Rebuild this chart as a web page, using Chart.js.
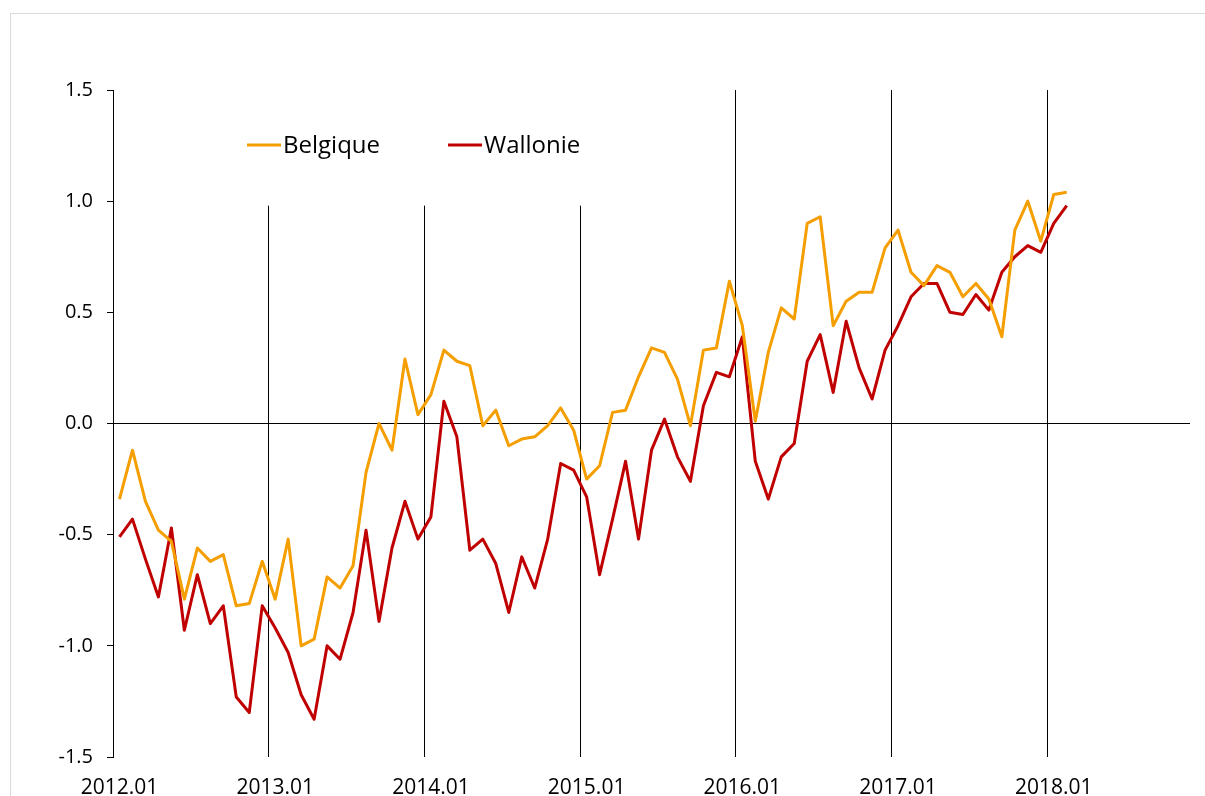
<!DOCTYPE html>
<html>
<head>
<meta charset="utf-8">
<script src="https://cdn.jsdelivr.net/npm/chart.js@4"></script>
<style>
    html, body { margin: 0; padding: 0; background: #fff; overflow: hidden; }
    #frame { position: absolute; left: 10px; top: 13px; width: 1300px; height: 900px; border: 1px solid #dadada; }
    #wrap { position: absolute; left: 0; top: 0; width: 1205px; height: 796px; }
</style>
</head>
<body>
<div id="frame"></div>
<div id="wrap"><canvas id="chart" width="1205" height="796"></canvas></div>
<script>
// Monthly axis runs 2012.01 .. 2018.11, data stops at 2018.02
const years = ['2012', '2013', '2014', '2015', '2016', '2017', '2018'];
const monthNums = ['01', '02', '03', '04', '05', '06', '07', '08', '09', '10', '11', '12'];
const axisLength = 83;
const months = years.flatMap(y => monthNums.map(m => `${y}.${m}`)).slice(0, axisLength);

const yTicks = [-1.5, -1.0, -0.5, 0.0, 0.5, 1.0, 1.5];

const belgique = [
    -0.34, -0.12, -0.35, -0.48, -0.53, -0.79, -0.56, -0.62, -0.59, -0.82, -0.81, -0.62,
    -0.79, -0.52, -1.00, -0.97, -0.69, -0.74, -0.64, -0.22, 0.00, -0.12, 0.29, 0.04,
    0.13, 0.33, 0.28, 0.26, -0.01, 0.06, -0.10, -0.07, -0.06, -0.01, 0.07, -0.03,
    -0.25, -0.19, 0.05, 0.06, 0.21, 0.34, 0.32, 0.20, -0.01, 0.33, 0.34, 0.64,
    0.44, 0.01, 0.32, 0.52, 0.47, 0.90, 0.93, 0.44, 0.55, 0.59, 0.59, 0.79,
    0.87, 0.68, 0.62, 0.71, 0.68, 0.57, 0.63, 0.56, 0.39, 0.87, 1.00, 0.82,
    1.03, 1.04,
];

const wallonie = [
    -0.51, -0.43, -0.61, -0.78, -0.47, -0.93, -0.68, -0.90, -0.82, -1.23, -1.30, -0.82,
    -0.92, -1.03, -1.22, -1.33, -1.00, -1.06, -0.85, -0.48, -0.89, -0.56, -0.35, -0.52,
    -0.42, 0.10, -0.06, -0.57, -0.52, -0.63, -0.85, -0.60, -0.74, -0.52, -0.18, -0.21,
    -0.33, -0.68, -0.43, -0.17, -0.52, -0.12, 0.02, -0.15, -0.26, 0.08, 0.23, 0.21,
    0.39, -0.17, -0.34, -0.15, -0.09, 0.28, 0.40, 0.14, 0.46, 0.25, 0.11, 0.33,
    0.44, 0.57, 0.63, 0.63, 0.50, 0.49, 0.58, 0.51, 0.68, 0.75, 0.80, 0.77,
    0.90, 0.98,
];

const FONT = '"Open Sans", "DejaVu Sans", sans-serif';

// white box behind the legend hides the upper part of the first year lines
const legendMask = {
    id: 'legendMask',
    beforeDatasetsDraw(chart) {
        const { ctx, chartArea, scales } = chart;
        const bottom = scales.y.getPixelForValue(0.98);
        ctx.save();
        ctx.fillStyle = '#fff';
        ctx.fillRect(chartArea.left + 120, chartArea.top, 390, bottom - chartArea.top);
        ctx.restore();
    },
};

const inlineLegend = {
    id: 'inlineLegend',
    afterDatasetsDraw(chart) {
        const { ctx, chartArea } = chart;
        const y = chartArea.top + 55;
        ctx.save();
        ctx.font = `24px ${FONT}`;
        ctx.textBaseline = 'middle';
        ctx.fillStyle = '#000';
        chart.data.datasets.forEach((ds, i) => {
            const x = chartArea.left + 134 + i * 201;
            ctx.strokeStyle = ds.borderColor;
            ctx.lineWidth = 3;
            ctx.beginPath();
            ctx.moveTo(x, y);
            ctx.lineTo(x + 34, y);
            ctx.stroke();
            ctx.fillText(ds.label, x + 36, y + 1);
        });
        ctx.restore();
    },
};

new Chart(document.getElementById('chart'), {
    type: 'line',
    data: {
        labels: months,
        datasets: [
            {
                label: 'Belgique', data: belgique,
                borderColor: '#F59E00', borderWidth: 3, pointRadius: 0,
                tension: 0, borderJoinStyle: 'round',
            },
            {
                label: 'Wallonie', data: wallonie,
                borderColor: '#C00000', borderWidth: 3, pointRadius: 0,
                tension: 0, borderJoinStyle: 'round',
            },
        ],
    },
    options: {
        responsive: false,
        animation: false,
        devicePixelRatio: 1,
        layout: { padding: { top: 90, right: 15, left: 0, bottom: 0 } },
        plugins: { legend: { display: false }, tooltip: { enabled: false } },
        scales: {
            x: {
                type: 'category',
                offset: true,
                grid: {
                    offset: true,
                    drawTicks: false,
                    lineWidth: 1,
                    color: c => (c.index > 0 && c.index % 12 === 0) ? '#000' : 'rgba(0,0,0,0)',
                },
                border: { display: false },
                ticks: {
                    autoSkip: false,
                    maxRotation: 0,
                    padding: 18,
                    color: '#000',
                    font: { family: FONT, size: 21 },
                    callback: (v, i) => (i % 12 === 0 ? months[i] : ''),
                },
                afterFit: s => { s.height = 39; },
            },
            y: {
                min: -1.5, max: 1.5,
                afterBuildTicks: s => { s.ticks = yTicks.map(v => ({ value: v })); },
                grid: {
                    color: c => (c.tick && c.tick.value === 0) ? '#000' : 'rgba(0,0,0,0)',
                    tickColor: '#000',
                    tickLength: 6,
                    lineWidth: 1,
                },
                border: { display: true, color: '#000', width: 1 },
                ticks: {
                    padding: 14,
                    color: '#000',
                    font: { family: FONT, size: 20 },
                    callback: v => Number(v).toFixed(1),
                },
                afterFit: s => { s.width = 113; },
            },
        },
    },
    plugins: [legendMask, inlineLegend],
});
</script>
</body>
</html>
